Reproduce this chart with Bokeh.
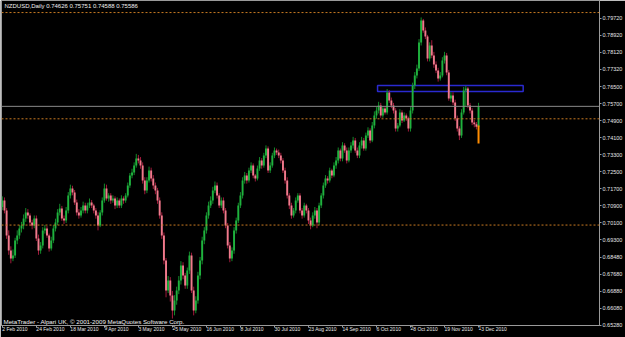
import numpy as np
from bokeh.plotting import figure
from bokeh.models import ColumnDataSource, Range1d, FixedTicker, PrintfTickFormatter, Span, Label
from bokeh.embed import file_html
from bokeh.resources import INLINE

# ---------------- data (NZDUSD daily) ----------------
closes = [
    0.7116,0.7068,0.6951,0.6880,0.6843,0.6857,0.6927,0.6951,0.6984,0.6998,0.7031,0.7059,0.7045,0.7012,0.6998,0.7031,
    0.6937,0.6880,0.6904,0.6974,0.6984,0.6951,0.6890,0.6927,0.6984,0.7012,0.7059,0.7078,0.7031,0.7021,0.7068,0.7139,
    0.7172,0.7153,0.7106,0.7059,0.7045,0.7068,0.7092,0.7068,0.7092,0.7106,0.7092,0.7068,0.7045,0.6998,0.7059,0.7116,
    0.7172,0.7125,0.7139,0.7116,0.7125,0.7092,0.7116,0.7092,0.7125,0.7116,0.7139,0.7186,0.7233,0.7247,0.7280,0.7313,
    0.7304,0.7280,0.7210,0.7163,0.7210,0.7257,0.7219,0.7186,0.7163,0.7116,0.7045,0.6951,0.6833,0.6692,0.6739,0.6668,
    0.6598,0.6645,0.6692,0.6739,0.6810,0.6763,0.6716,0.6786,0.6857,0.6692,0.6598,0.6645,0.6763,0.6833,0.6927,0.6974,
    0.7045,0.7092,0.7116,0.7163,0.7186,0.7139,0.7092,0.7116,0.7068,0.6998,0.6904,0.6843,0.6880,0.6974,0.7021,0.7092,
    0.7139,0.7210,0.7233,0.7210,0.7257,0.7280,0.7233,0.7219,0.7266,0.7304,0.7280,0.7327,0.7360,0.7257,0.7280,0.7327,
    0.7351,0.7341,0.7327,0.7304,0.7257,0.7210,0.7139,0.7092,0.7045,0.7068,0.7116,0.7139,0.7068,0.7045,0.7092,0.7068,
    0.7021,0.6998,0.7045,0.7068,0.7012,0.7092,0.7139,0.7186,0.7219,0.7210,0.7257,0.7233,0.7280,0.7304,0.7351,0.7313,
    0.7374,0.7351,0.7304,0.7351,0.7374,0.7398,0.7351,0.7327,0.7374,0.7398,0.7360,0.7421,0.7445,0.7398,0.7469,0.7516,
    0.7539,0.7563,0.7516,0.7549,0.7530,0.7624,0.7586,0.7563,0.7539,0.7454,0.7469,0.7530,0.7492,0.7516,0.7502,0.7454,
    0.7539,0.7657,0.7704,0.7737,0.7859,0.7963,0.7916,0.7887,0.7784,0.7845,0.7798,0.7755,0.7727,0.7690,0.7704,0.7774,
    0.7798,0.7718,0.7596,0.7610,0.7577,0.7502,0.7454,0.7421,0.7530,0.7633,0.7642,0.7563,0.7539,0.7483,0.7474,0.74626,
    0.75586,
]
highs = [
    0.7135,0.7130,0.7080,0.6975,0.6900,0.6885,0.6940,0.6975,0.7000,0.7015,0.7050,0.7080,0.7075,0.7055,0.7025,0.7045,
    0.7045,0.6955,0.6920,0.6990,0.7000,0.6995,0.6960,0.6945,0.7000,0.7030,0.7075,0.7100,0.7090,0.7045,0.7085,0.7155,
    0.7190,0.7185,0.7165,0.7120,0.7075,0.7085,0.7110,0.7105,0.7105,0.7125,0.7118,0.7100,0.7080,0.7060,0.7070,0.7130,
    0.7195,0.7190,0.7150,0.7150,0.7140,0.7135,0.7130,0.7125,0.7140,0.7135,0.7150,0.7200,0.7245,0.7265,0.7295,0.7335,
    0.7330,0.7320,0.7295,0.7225,0.7225,0.7275,0.7270,0.7235,0.7200,0.7175,0.7130,0.7060,0.6965,0.6845,0.6760,0.6755,
    0.6690,0.6670,0.6710,0.6760,0.6830,0.6825,0.6775,0.6800,0.6875,0.6870,0.6710,0.6665,0.6780,0.6850,0.6945,0.6990,
    0.7060,0.7110,0.7135,0.7180,0.7205,0.7200,0.7150,0.7130,0.7130,0.7080,0.7010,0.6920,0.6895,0.6990,0.7035,0.7105,
    0.7155,0.7225,0.7250,0.7245,0.7270,0.7295,0.7290,0.7240,0.7280,0.7320,0.7315,0.7340,0.7375,0.7370,0.7295,0.7340,
    0.7365,0.7360,0.7355,0.7340,0.7315,0.7270,0.7225,0.7150,0.7105,0.7080,0.7130,0.7150,0.7150,0.7080,0.7105,0.7100,
    0.7080,0.7035,0.7060,0.7085,0.7080,0.7105,0.7150,0.7200,0.7235,0.7230,0.7270,0.7265,0.7295,0.7320,0.7365,0.7360,
    0.7390,0.7385,0.7365,0.7365,0.7390,0.7415,0.7410,0.7365,0.7390,0.7415,0.7410,0.7435,0.7460,0.7455,0.7485,0.7535,
    0.7555,0.7580,0.7575,0.7560,0.7560,0.7640,0.7635,0.7600,0.7575,0.7550,0.7480,0.7545,0.7540,0.7530,0.7525,0.7510,
    0.7555,0.7670,0.7720,0.7755,0.7875,0.7977,0.7970,0.7930,0.7895,0.7860,0.7870,0.7815,0.7770,0.7740,0.7720,0.7790,
    0.7815,0.7810,0.7730,0.7625,0.7625,0.7590,0.7515,0.7465,0.7545,0.7650,0.7655,0.7650,0.7575,0.7550,0.7495,0.7485,
    0.75751,
]
lows = [
    0.7070,0.7055,0.6935,0.6860,0.6820,0.6830,0.6845,0.6910,0.6935,0.6965,0.6980,0.7015,0.7030,0.6995,0.6980,0.6985,
    0.6925,0.6860,0.6865,0.6890,0.6960,0.6940,0.6875,0.6880,0.6915,0.6970,0.7000,0.7045,0.7020,0.7005,0.7010,0.7055,
    0.7125,0.7140,0.7095,0.7045,0.7030,0.7035,0.7055,0.7055,0.7055,0.7080,0.7080,0.7055,0.7030,0.6975,0.6990,0.7045,
    0.7105,0.7115,0.7110,0.7100,0.7105,0.7075,0.7080,0.7080,0.7080,0.7100,0.7105,0.7130,0.7175,0.7220,0.7235,0.7270,
    0.7290,0.7265,0.7195,0.7145,0.7150,0.7200,0.7205,0.7170,0.7145,0.7100,0.7030,0.6935,0.6815,0.6660,0.6680,0.6640,
    0.6560,0.6575,0.6625,0.6675,0.6720,0.6745,0.6700,0.6700,0.6770,0.6680,0.6575,0.6585,0.6630,0.6745,0.6815,0.6910,
    0.6960,0.7030,0.7080,0.7100,0.7150,0.7125,0.7080,0.7080,0.7055,0.6985,0.6890,0.6825,0.6830,0.6865,0.6960,0.7010,
    0.7080,0.7125,0.7195,0.7195,0.7200,0.7245,0.7220,0.7205,0.7210,0.7255,0.7265,0.7270,0.7315,0.7245,0.7245,0.7270,
    0.7315,0.7330,0.7315,0.7290,0.7245,0.7195,0.7125,0.7075,0.7030,0.7035,0.7055,0.7105,0.7055,0.7030,0.7035,0.7055,
    0.7005,0.6980,0.6990,0.7030,0.6985,0.7000,0.7080,0.7125,0.7175,0.7195,0.7200,0.7220,0.7225,0.7265,0.7290,0.7300,
    0.7300,0.7340,0.7290,0.7295,0.7340,0.7360,0.7340,0.7315,0.7315,0.7360,0.7350,0.7350,0.7410,0.7385,0.7390,0.7455,
    0.7500,0.7525,0.7505,0.7505,0.7520,0.7520,0.7575,0.7550,0.7525,0.7440,0.7440,0.7460,0.7480,0.7485,0.7490,0.7440,
    0.7440,0.7525,0.7640,0.7690,0.7725,0.7845,0.7905,0.7875,0.7770,0.7770,0.7785,0.7740,0.7715,0.7675,0.7680,0.7695,
    0.7760,0.7705,0.7585,0.7580,0.7565,0.7490,0.7440,0.7400,0.7410,0.7520,0.7560,0.7550,0.7525,0.7470,0.7460,0.7450,
    0.74588,
]
first_open = 0.7085
opens = [first_open] + closes[:-1]   # FX daily bars open at the previous close

date_labels = ["2 Feb 2010", "24 Feb 2010", "18 Mar 2010", "9 Apr 2010", "3 May 2010",
               "25 May 2010", "16 Jun 2010", "8 Jul 2010", "30 Jul 2010", "23 Aug 2010",
               "14 Sep 2010", "6 Oct 2010", "28 Oct 2010", "19 Nov 2010", "13 Dec 2010"]
label_bars = [0, 16, 32, 48, 64, 80, 96, 112, 128, 144, 160, 176, 192, 208, 224]

price_ticks = [0.7972, 0.7892, 0.7812, 0.7732, 0.7650, 0.7570, 0.7490, 0.7410, 0.7330,
               0.7250, 0.7170, 0.7090, 0.7010, 0.6930, 0.6848, 0.6768, 0.6688, 0.6608, 0.6528]

level_lines = [0.80000, 0.75000, 0.70000]
bid_price = 0.75586
zone_bars = [176.5, 245.0]
zone_prices = [0.7629, 0.7657]
marker_bar = 224
marker_prices = [0.7384, 0.7468]

header = "NZDUSD,Daily  0.74626 0.75751 0.74588 0.75586"
footer = "MetaTrader - Alpari UK, \u00a9 2001-2009 MetaQuotes Software Corp."

# ---------------- figure ----------------
FONT = "Liberation Sans"
o = np.array(opens); h = np.array(highs); l = np.array(lows); c = np.array(closes)
idx = np.arange(len(c))
up = c >= o
src_up = ColumnDataSource(dict(x=idx[up], top=c[up], bottom=o[up], high=h[up], low=l[up]))
src_dn = ColumnDataSource(dict(x=idx[~up], top=o[~up], bottom=c[~up], high=h[~up], low=l[~up]))

p = figure(width=625, height=337, output_backend="svg", toolbar_location=None,
           x_range=Range1d(-0.4, 280.9), y_range=Range1d(0.65273, 0.80567),
           y_axis_location="right", background_fill_color="#000000",
           border_fill_color="#000000", outline_line_color="#9a9a9a",
           min_border_left=1, min_border_right=0, min_border_top=0, min_border_bottom=11)
p.grid.visible = False

for loc in level_lines:
    p.add_layout(Span(location=loc, dimension="width", line_color="#c87a22",
                      line_dash="2 2", line_width=1))
p.add_layout(Span(location=bid_price, dimension="width", line_color="#8a8a8a", line_width=1))

p.quad(left=zone_bars[0], right=zone_bars[1], bottom=zone_prices[0], top=zone_prices[1],
       fill_color=None, line_color="#2a2ad0", line_width=1.5)

p.segment(x0="x", y0="low", x1="x", y1="high", source=src_up, line_color="#138a2a", line_width=1)
p.segment(x0="x", y0="low", x1="x", y1="high", source=src_dn, line_color="#a01a3c", line_width=1)
p.vbar(x="x", top="top", bottom="bottom", width=0.9, source=src_up,
       fill_color="#1fb23e", line_color=None)
p.vbar(x="x", top="top", bottom="bottom", width=0.9, source=src_dn,
       fill_color="#f07a8c", line_color=None)
p.segment(x0=[marker_bar], y0=[marker_prices[0]], x1=[marker_bar], y1=[marker_prices[1]],
          line_color="#ff8c00", line_width=2)

# axes
ya = p.yaxis[0]
ya.ticker = FixedTicker(ticks=price_ticks)
ya.formatter = PrintfTickFormatter(format="%.5f")
ya.major_label_text_font_size = "5.5px"
ya.major_label_standoff = 1
xa = p.xaxis[0]
xa.ticker = FixedTicker(ticks=label_bars)
xa.major_label_overrides = {b: t for b, t in zip(label_bars, date_labels)}
xa.major_label_text_font_size = "5px"
xa.major_label_orientation = -0.0001     # tiny negative angle -> labels start at their tick
xa.major_label_standoff = 1
for ax in (xa, ya):
    ax.axis_line_color = "#9a9a9a"
    ax.major_tick_line_color = "#9a9a9a"
    ax.minor_tick_line_color = None
    ax.major_tick_in = 0
    ax.major_tick_out = 2
    ax.major_label_text_color = "#e6e6e6"
    ax.major_label_text_font = FONT

# boxed price labels on the price scale
for loc in level_lines:
    p.add_layout(Label(x=602, y=loc, x_units="screen", y_units="data", text="%.5f" % loc,
                       text_font=FONT, text_font_size="5.5px", text_color="#000000",
                       text_baseline="middle", text_align="left",
                       background_fill_color="#f0a020", padding=1))
p.add_layout(Label(x=602, y=bid_price, x_units="screen", y_units="data", text="%.5f" % bid_price,
                   text_font=FONT, text_font_size="5.5px", text_color="#000000",
                   text_baseline="middle", text_align="left",
                   background_fill_color="#ffffff", padding=1))

p.add_layout(Label(x=3, y=320, x_units="screen", y_units="screen", text=header,
                   text_font=FONT, text_font_size="6px", text_color="#f0f0f0",
                   text_baseline="middle"))
p.add_layout(Label(x=2, y=4, x_units="screen", y_units="screen", text=footer,
                   text_font=FONT, text_font_size="6.2px", text_color="#f0f0f0",
                   text_baseline="middle"))

open("out.html", "w").write(file_html(p, INLINE))
